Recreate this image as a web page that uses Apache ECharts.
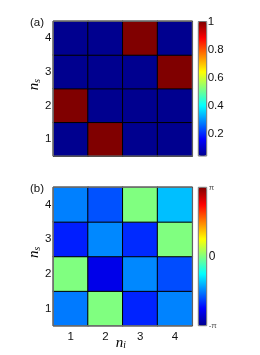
<!DOCTYPE html>
<html><head><meta charset="utf-8">
<script src="https://cdn.jsdelivr.net/npm/echarts/dist/echarts.min.js"></script>
<style>html,body{margin:0;padding:0;background:#fff}#c{width:260px;height:355px}</style>
</head><body><div id="c"></div>
<script>
// ---- data ----
const niCategories = ['1', '2', '3', '4'];
const nsCategories = ['1', '2', '3', '4'];
// rows: n_s = 1..4, columns: n_i = 1..4
const amplitudeRows = [
  [0.04, 1.00, 0.04, 0.04],
  [1.00, 0.04, 0.04, 0.04],
  [0.04, 0.04, 0.04, 1.00],
  [0.04, 0.04, 1.00, 0.04]
];
const phaseRows = [
  [-1.61, 0.00, -2.14, -1.55],
  [0.00, -2.51, -1.52, -1.89],
  [-2.17, -1.52, -2.10, 0.00],
  [-1.57, -1.86, 0.00, -1.18]
];
const phaseTickLabels = ['-π', '0', 'π'];
const panelLabels = ['(a)', '(b)'];

// ---- helpers ----
const jet = ['#00008F', '#0000FF', '#0080FF', '#00FFFF', '#80FF80', '#FFFF00', '#FF8000', '#FF0000', '#800000'];
function toCells(rows) {
  const out = [];
  rows.forEach((row, yi) => row.forEach((v, xi) => out.push([xi, yi, v])));
  return out;
}
const flatAmp = amplitudeRows.flat();
const ampMin = Math.min(...flatAmp), ampMax = Math.max(...flatAmp);
const FONT = 'Liberation Sans, Arial, Helvetica, sans-serif';
const SERIF = 'Liberation Serif, Times New Roman, serif';
const nameRich = {
  n: { fontFamily: SERIF, fontStyle: 'italic', fontSize: 15, color: '#000' },
  s: { fontFamily: SERIF, fontStyle: 'italic', fontSize: 9.5, color: '#000', padding: [6, 0, 0, 0] }
};
const catYAxis = (gi) => ({
  gridIndex: gi, type: 'category', data: nsCategories,
  axisLine: { show: false }, axisTick: { show: false },
  axisLabel: { fontFamily: FONT, fontSize: 11.5, color: '#111', margin: 2, padding: [4, 0, 0, 0] },
  name: '{n|n}{s|s}', nameLocation: 'middle', nameGap: 11, nameMoveOverlap: false,
  nameTextStyle: { rich: nameRich, padding: [0, 0, 0, 8] }
});

const chart = echarts.init(document.getElementById('c'), null, { renderer: 'canvas' });
chart.setOption({
  animation: false,
  backgroundColor: '#fff',
  title: panelLabels.map((t, i) => ({
    text: t, left: 30, top: i === 0 ? 17 : 183, padding: 0,
    textStyle: { fontFamily: FONT, fontSize: 11.5, fontWeight: 'normal', color: '#111' }
  })),
  grid: [
    { left: 53.3, top: 21.3, width: 139, height: 134.7, show: true, backgroundColor: 'transparent', borderColor: '#777', borderWidth: 1, z: 5 },
    { left: 53.3, top: 187.3, width: 139, height: 138.4, show: true, backgroundColor: 'transparent', borderColor: '#777', borderWidth: 1, z: 5 },
    { left: 198.3, top: 21.5, width: 8.4, height: 134.5, show: true, backgroundColor: 'transparent', borderColor: '#777', borderWidth: 1, z: 6 },
    { left: 198.3, top: 187.3, width: 8.4, height: 138.4, show: true, backgroundColor: 'transparent', borderColor: '#777', borderWidth: 1, z: 6 }
  ],
  xAxis: [
    { gridIndex: 0, type: 'category', data: niCategories, axisLine: { show: false }, axisTick: { show: false }, axisLabel: { show: false } },
    { gridIndex: 1, type: 'category', data: niCategories, axisLine: { show: false }, axisTick: { show: false },
      axisLabel: { fontFamily: FONT, fontSize: 11.5, color: '#111', margin: 5 },
      name: '{n|n}{s|i}', nameLocation: 'middle', nameGap: 9, nameMoveOverlap: false,
      nameTextStyle: { rich: nameRich, padding: [0, 4, 0, 0] } },
    { gridIndex: 2, type: 'value', show: false },
    { gridIndex: 3, type: 'value', show: false }
  ],
  yAxis: [
    catYAxis(0),
    catYAxis(1),
    { gridIndex: 2, type: 'value', position: 'right', min: ampMin, max: ampMax, splitNumber: 5,
      axisLine: { show: false }, axisTick: { show: false }, splitLine: { show: false },
      axisLabel: { showMinLabel: false, margin: 1, fontFamily: FONT, fontSize: 11.5, color: '#111' } },
    { gridIndex: 3, type: 'value', position: 'right', min: -Math.PI, max: Math.PI, interval: Math.PI,
      axisLine: { show: false }, axisTick: { show: false }, splitLine: { show: false },
      axisLabel: { margin: 2, fontFamily: FONT, color: '#111',
        formatter: (v) => {
          const k = Math.round(v / Math.PI) + 1;
          const t = phaseTickLabels[k];
          return t === '0' ? '{b|' + t + '}' : '{s|' + t + '}';
        },
        rich: { b: { fontSize: 12, fontFamily: FONT, color: '#111' }, s: { fontSize: 8, fontFamily: FONT, color: '#555' } } } }
  ],
  visualMap: [
    { type: 'continuous', seriesIndex: 0, min: ampMin, max: ampMax, calculable: false, orient: 'vertical',
      left: 198.3, top: 21.5, itemWidth: 8.4, itemHeight: 134.5, padding: 0, inRange: { color: jet } },
    { type: 'continuous', seriesIndex: 1, min: -Math.PI, max: Math.PI, calculable: false, orient: 'vertical',
      left: 198.3, top: 187.3, itemWidth: 8.4, itemHeight: 138.4, padding: 0, inRange: { color: jet } }
  ],
  series: [
    { type: 'heatmap', xAxisIndex: 0, yAxisIndex: 0, data: toCells(amplitudeRows),
      itemStyle: { borderColor: '#000', borderWidth: 1 } },
    { type: 'heatmap', xAxisIndex: 1, yAxisIndex: 1, data: toCells(phaseRows),
      itemStyle: { borderColor: '#000', borderWidth: 1 } }
  ]
});
</script></body></html>
